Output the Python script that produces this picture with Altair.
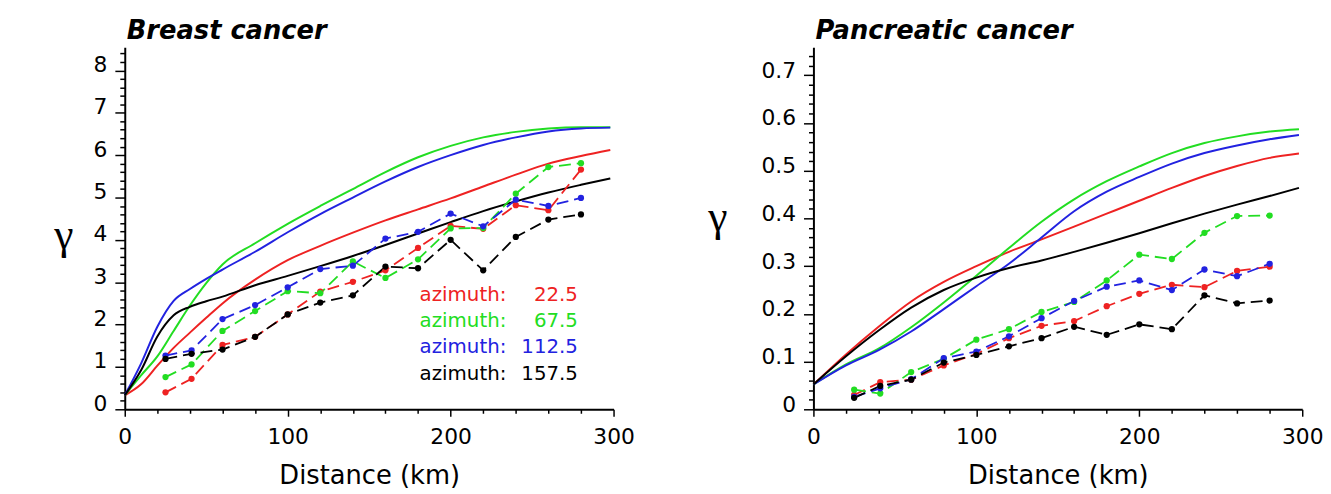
import altair as alt
import pandas as pd

# ---------------- data ----------------
AZIMUTHS = ["22.5", "67.5", "112.5", "157.5"]
COLORS = ["#ee2222", "#22dd22", "#2222e0", "#000000"]

# empirical variogram lags (km)
KM_EMP = [25, 41, 60, 80, 100, 120, 140, 160, 180, 200, 220, 240, 260, 280]

BREAST_EMP_225 = [0.40, 0.72, 1.52, 1.71, 2.24, 2.78, 3.01, 3.28, 3.81, 4.33, 4.26, 4.82, 4.70, 5.66]
BREAST_EMP_675 = [0.76, 1.06, 1.85, 2.32, 2.79, 2.74, 3.49, 3.10, 3.54, 4.27, 4.28, 5.09, 5.72, 5.81]
BREAST_EMP_1125 = [1.27, 1.39, 2.13, 2.46, 2.88, 3.31, 3.39, 4.03, 4.19, 4.62, 4.32, 4.95, 4.80, 4.99]
BREAST_EMP_1575 = [1.19, 1.31, 1.41, 1.71, 2.24, 2.52, 2.69, 3.37, 3.33, 4.00, 3.28, 4.07, 4.48, 4.60]

PANC_EMP_225 = [0.030, 0.057, 0.062, 0.092, 0.116, 0.149, 0.175, 0.185, 0.216, 0.242, 0.261, 0.256, 0.290, 0.299]
PANC_EMP_675 = [0.041, 0.033, 0.078, 0.106, 0.146, 0.168, 0.204, 0.225, 0.270, 0.324, 0.315, 0.370, 0.405, 0.406]
PANC_EMP_1125 = [0.026, 0.044, 0.063, 0.107, 0.121, 0.153, 0.191, 0.227, 0.257, 0.270, 0.250, 0.293, 0.279, 0.305]
PANC_EMP_1575 = [0.024, 0.049, 0.062, 0.098, 0.114, 0.132, 0.149, 0.173, 0.156, 0.178, 0.168, 0.239, 0.222, 0.228]

# fitted model curves (km, gamma)
KM_MODEL_BREAST = [0, 10, 20, 30, 40, 50, 60, 80, 100, 120, 140, 160, 180, 200, 220, 240, 260, 280, 298]
BREAST_MOD_225 = [0.33, 0.59, 1.03, 1.45, 1.81, 2.16, 2.50, 3.06, 3.52, 3.86, 4.17, 4.46, 4.72, 4.98, 5.26, 5.54, 5.80, 5.98, 6.12]
BREAST_MOD_675 = [0.33, 0.80, 1.25, 1.85, 2.45, 2.98, 3.42, 3.92, 4.38, 4.80, 5.20, 5.60, 5.95, 6.22, 6.42, 6.55, 6.63, 6.66, 6.66]
BREAST_MOD_1125 = [0.33, 1.08, 1.95, 2.56, 2.84, 3.08, 3.30, 3.72, 4.18, 4.61, 5.00, 5.38, 5.72, 6.00, 6.24, 6.42, 6.56, 6.63, 6.65]
BREAST_MOD_1575 = [0.33, 0.92, 1.72, 2.22, 2.42, 2.55, 2.66, 2.93, 3.15, 3.38, 3.62, 3.88, 4.15, 4.42, 4.68, 4.91, 5.12, 5.30, 5.45]

KM_MODEL_PANC = [0, 20, 40, 60, 80, 100, 120, 140, 160, 180, 200, 220, 240, 260, 280, 298]
PANC_MOD_225 = [0.052, 0.115, 0.173, 0.226, 0.267, 0.300, 0.330, 0.356, 0.383, 0.410, 0.437, 0.464, 0.489, 0.510, 0.527, 0.536]
PANC_MOD_675 = [0.052, 0.094, 0.127, 0.172, 0.224, 0.280, 0.338, 0.393, 0.440, 0.478, 0.509, 0.537, 0.558, 0.572, 0.582, 0.587]
PANC_MOD_1125 = [0.052, 0.092, 0.124, 0.163, 0.210, 0.258, 0.305, 0.360, 0.415, 0.456, 0.487, 0.515, 0.537, 0.553, 0.566, 0.575]
PANC_MOD_1575 = [0.052, 0.111, 0.165, 0.213, 0.250, 0.276, 0.296, 0.312, 0.330, 0.349, 0.369, 0.390, 0.410, 0.429, 0.447, 0.464]

PANEL_TITLES = ["Breast cancer", "Pancreatic cancer"]
X_TICKS = [i * 20 for i in range(16)]
BREAST_Y_TICKS = [round(i * 0.2, 1) for i in range(43)]
PANC_Y_TICKS = [round(i * 0.02, 2) for i in range(38)]


def long_df(km, series):
    rows = []
    for az, vals in zip(AZIMUTHS, series):
        for k, g in zip(km, vals):
            rows.append({"km": k, "gamma": g, "az": az})
    return pd.DataFrame(rows)


breast_emp = long_df(KM_EMP, [BREAST_EMP_225, BREAST_EMP_675, BREAST_EMP_1125, BREAST_EMP_1575])
breast_mod = long_df(KM_MODEL_BREAST, [BREAST_MOD_225, BREAST_MOD_675, BREAST_MOD_1125, BREAST_MOD_1575])
panc_emp = long_df(KM_EMP, [PANC_EMP_225, PANC_EMP_675, PANC_EMP_1125, PANC_EMP_1575])
panc_mod = long_df(KM_MODEL_PANC, [PANC_MOD_225, PANC_MOD_675, PANC_MOD_1125, PANC_MOD_1575])

FONT = "DejaVu Sans"
W, H = 494, 366


def panel(emp, mod, title, ymax, yticks, major_test, label_fmt, gamma_x, gamma_y, label_off, legend):
    color = alt.Color("az:N", scale=alt.Scale(domain=AZIMUTHS, range=COLORS), legend=None)
    x_axis = alt.Axis(
        values=X_TICKS,
        labelExpr="datum.value % 100 == 0 ? datum.label : ''",
        tickSize={"condition": {"test": "datum.value % 100 == 0", "value": 7}, "value": 4},
        labelPadding=11,
        labelFlush=False,
        labelOverlap=False,
        title="Distance (km)",
        titleY=75,
        titleBaseline="alphabetic",
    )
    y_axis = alt.Axis(
        values=yticks,
        labelExpr=f"({major_test}) ? format(datum.value, '{label_fmt}') : ''",
        tickSize={"condition": {"test": major_test, "value": 10}, "value": 5},
        labelPadding=8,
        labelOffset=label_off,
        labelFlush=False,
        labelOverlap=False,
        title="γ",
        titleAngle=0,
        titleX=gamma_x,
        titleY=gamma_y,
        titleAlign="center",
        titleBaseline="alphabetic",
        titleFont="Liberation Serif",
        titleFontSize=44,
        titleFontWeight="normal",
    )
    X = alt.X("km:Q", scale=alt.Scale(domain=[0, 300], nice=False, zero=False), axis=x_axis)
    Y = alt.Y("gamma:Q", scale=alt.Scale(domain=[0, ymax], nice=False, zero=False), axis=y_axis)

    model = alt.Chart(mod).mark_line(strokeWidth=2, interpolate="monotone").encode(x=X, y=Y, color=color)
    emp_line = alt.Chart(emp).mark_line(strokeWidth=1.8, strokeDash=[12, 6]).encode(x=X, y=Y, color=color)
    emp_pts = alt.Chart(emp).mark_circle(size=40, opacity=1).encode(x=X, y=Y, color=color)
    head = alt.Chart(pd.DataFrame({"t": [title]})).mark_text(
        align="left", baseline="alphabetic", font=FONT, fontSize=26,
        fontWeight="bold", fontStyle="italic", color="black",
    ).encode(x=alt.value(2), y=alt.value(-8), text=alt.Text("t:N"))
    layers = [model, emp_line, emp_pts, head]

    if legend:
        for i, (az, c) in enumerate(zip(AZIMUTHS, COLORS)):
            one = pd.DataFrame({"az": [az]})
            ypix = 257 + 26.3 * i
            layers.append(
                alt.Chart(one).mark_text(align="left", baseline="alphabetic", font=FONT, fontSize=20, color=c)
                .encode(x=alt.value(298), y=alt.value(ypix), text=alt.value("azimuth:"))
            )
            layers.append(
                alt.Chart(one).mark_text(align="right", baseline="alphabetic", font=FONT, fontSize=20, color=c)
                .encode(x=alt.value(458), y=alt.value(ypix), text=alt.Text("az:N"))
            )

    return alt.layer(*layers).properties(width=W, height=H)


left = panel(
    breast_emp, breast_mod, PANEL_TITLES[0], 8.55, BREAST_Y_TICKS,
    "abs(datum.value - round(datum.value)) < 1e-6", "d", -62, 203, -6, True,
)
right = panel(
    panc_emp, panc_mod, PANEL_TITLES[1], 0.759, PANC_Y_TICKS,
    "abs(datum.value * 10 - round(datum.value * 10)) < 1e-6", ".1~f", -97, 185, -5, False,
)

chart = (
    alt.hconcat(left, right, spacing=202, bounds="flush")
    .properties(padding={"left": 46, "top": 8, "right": 0, "bottom": 0})
    .configure_view(stroke=None)
    .configure_axis(
        grid=False,
        domainColor="black",
        domainWidth=2,
        tickColor="black",
        tickWidth=1.5,
        labelFont=FONT,
        labelFontSize=22,
        labelColor="black",
        titleFont=FONT,
        titleFontSize=26,
        titleFontWeight="normal",
        titleColor="black",
    )
)

chart.save("out.html", embed_options={"renderer": "svg", "actions": False})
